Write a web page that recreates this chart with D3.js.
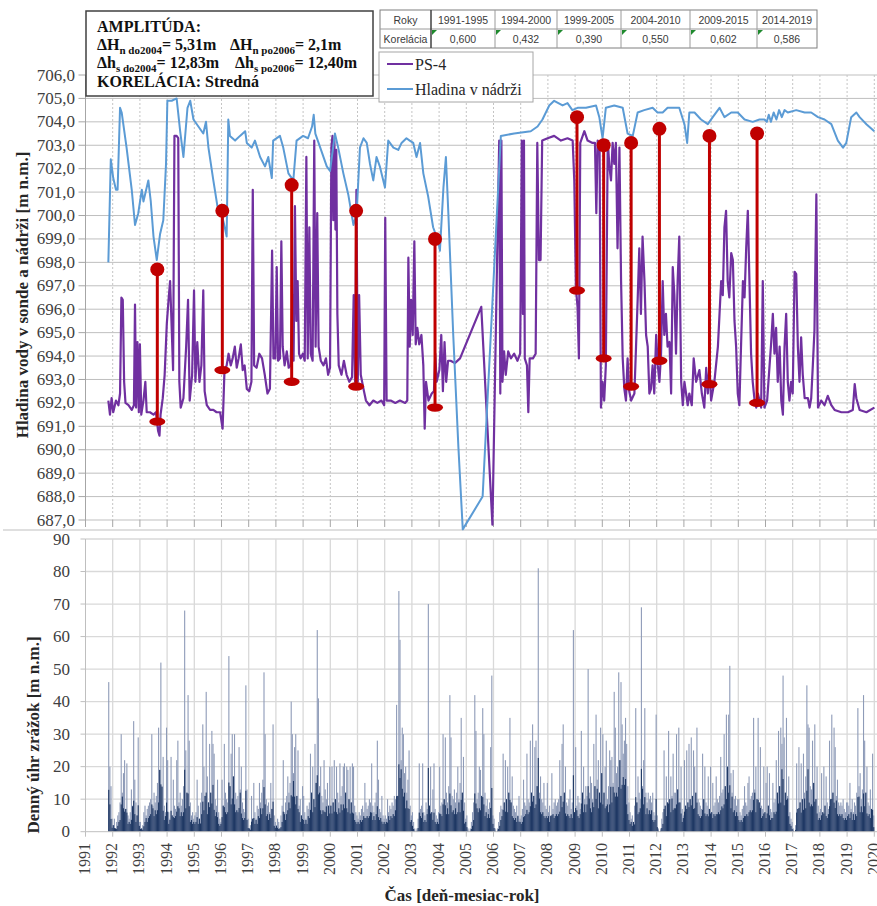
<!DOCTYPE html>
<html lang="sk">
<head>
<meta charset="UTF-8">
<title>PS-4 a hladina v nádrži</title>
<script src="https://cdn.jsdelivr.net/npm/d3@7"></script>
<style>
  html, body { margin: 0; padding: 0; background: #fff; }
  svg { display: block; }
</style>
</head>
<body>
<svg id="chart" width="877" height="906"></svg>
<script>
// ---- data ----
const years = d3.range(1991, 2021);
const levelTicks = d3.range(687, 707);
const rainTicks = d3.range(0, 100, 10);

const tableYears = ["1991-1995", "1994-2000", "1999-2005", "2004-2010", "2009-2015", "2014-2019"];
const korelacia = ["0,600", "0,432", "0,390", "0,550", "0,602", "0,586"];

// PS-4 [year, m n.m.]
const ps4 = [
  [1991.84,692.1],[1991.90,691.5],[1991.96,692.2],[1992.02,691.6],[1992.12,692.1],[1992.21,691.9],
  [1992.27,692.4],[1992.32,696.5],[1992.37,696.4],[1992.42,692.9],[1992.47,692.0],[1992.58,691.9],
  [1992.70,691.7],[1992.78,691.9],[1992.82,696.2],[1992.86,691.8],[1992.91,694.6],[1992.96,691.6],
  [1993.00,694.5],[1993.05,691.5],[1993.13,692.1],[1993.20,692.9],[1993.25,691.6],[1993.37,691.6],
  [1993.50,691.5],[1993.59,691.6],[1993.67,690.8],[1993.72,690.6],[1993.76,691.5],[1993.84,692.2],
  [1993.91,693.2],[1993.99,695.4],[1994.06,696.5],[1994.11,697.2],[1994.16,695.5],[1994.22,693.4],
  [1994.27,703.4],[1994.35,703.4],[1994.41,703.3],[1994.45,692.9],[1994.50,691.8],[1994.60,692.2],
  [1994.70,694.4],[1994.77,696.4],[1994.83,692.1],[1994.92,693.2],[1994.99,696.8],[1995.04,692.9],
  [1995.11,694.6],[1995.19,692.9],[1995.26,693.6],[1995.33,696.8],[1995.38,692.5],[1995.46,691.9],
  [1995.58,691.7],[1995.70,691.7],[1995.82,691.6],[1995.95,691.6],[1996.04,690.9],[1996.11,693.4],
  [1996.19,693.6],[1996.26,694.1],[1996.34,693.6],[1996.41,693.9],[1996.49,694.4],[1996.56,693.5],
  [1996.63,693.9],[1996.71,694.5],[1996.78,693.4],[1996.85,693.6],[1996.93,692.6],[1997.02,692.5],
  [1997.10,692.9],[1997.15,701.1],[1997.20,693.6],[1997.29,693.5],[1997.39,694.1],[1997.49,693.9],
  [1997.59,693.2],[1997.69,692.4],[1997.78,692.6],[1997.86,698.5],[1997.91,693.9],[1997.98,693.9],
  [1998.03,697.8],[1998.08,693.8],[1998.15,693.9],[1998.20,698.9],[1998.25,694.4],[1998.32,693.6],
  [1998.40,694.2],[1998.47,693.5],[1998.54,693.6],[1998.61,696.6],[1998.65,693.8],[1998.70,700.4],
  [1998.75,695.5],[1998.80,697.2],[1998.85,694.1],[1998.91,693.9],[1998.99,694.1],[1999.06,693.8],
  [1999.12,702.5],[1999.17,693.9],[1999.23,699.5],[1999.28,694.1],[1999.35,693.8],[1999.41,703.2],
  [1999.46,694.4],[1999.52,700.1],[1999.57,694.4],[1999.65,693.8],[1999.75,693.6],[1999.84,693.9],
  [1999.92,693.2],[1999.99,693.5],[2000.04,702.9],[2000.08,703.4],[2000.11,699.8],[2000.15,703.2],
  [2000.19,699.4],[2000.22,702.8],[2000.26,695.8],[2000.31,693.6],[2000.41,693.2],[2000.50,693.8],
  [2000.60,693.2],[2000.70,692.9],[2000.80,693.1],[2000.86,696.6],[2000.91,692.9],[2000.96,701.1],
  [2001.01,692.9],[2001.06,696.6],[2001.12,693.2],[2001.22,692.6],[2001.31,692.1],[2001.44,691.9],
  [2001.58,692.1],[2001.73,692.0],[2001.88,692.1],[2001.98,691.9],[2002.02,699.9],[2002.07,692.1],
  [2002.22,692.1],[2002.39,692.0],[2002.56,692.1],[2002.75,692.0],[2002.83,692.1],[2002.87,698.2],
  [2002.92,694.4],[2002.97,696.4],[2003.03,694.9],[2003.09,698.9],[2003.14,694.5],[2003.20,695.2],
  [2003.27,694.5],[2003.35,694.9],[2003.42,693.6],[2003.47,690.9],[2003.52,692.9],[2003.61,692.1],
  [2003.73,692.4],[2003.81,692.5],[2003.86,694.1],[2003.91,692.9],[2004.01,693.4],[2004.08,694.9],
  [2004.14,692.5],[2004.20,694.6],[2004.26,692.9],[2004.33,693.8],[2004.42,693.8],[2004.58,693.7],
  [2004.77,693.9],[2005.55,696.1],[2005.96,686.8],[2006.21,703.2],[2006.25,692.4],[2006.29,703.2],
  [2006.33,692.9],[2006.39,694.2],[2006.45,693.2],[2006.54,694.2],[2006.64,693.9],[2006.76,694.1],
  [2006.88,693.8],[2006.98,694.1],[2007.02,699.8],[2007.04,703.2],[2007.08,695.8],[2007.12,703.2],
  [2007.15,693.9],[2007.23,693.6],[2007.28,691.6],[2007.33,693.9],[2007.45,693.9],[2007.55,694.1],
  [2007.61,703.1],[2007.67,698.1],[2007.73,698.1],[2007.79,703.2],[2007.99,703.3],[2008.23,703.4],
  [2008.48,703.2],[2008.72,703.3],[2008.91,703.2],[2008.97,701.5],[2009.03,696.9],[2009.09,696.1],
  [2009.14,693.9],[2009.19,703.1],[2009.34,703.6],[2009.46,703.2],[2009.64,703.1],[2009.73,703.1],
  [2009.78,700.1],[2009.83,703.2],[2009.90,702.9],[2009.95,691.8],[2010.01,692.9],[2010.07,692.1],
  [2010.13,693.6],[2010.20,703.2],[2010.26,702.1],[2010.32,701.5],[2010.38,703.1],[2010.44,702.2],
  [2010.50,703.1],[2010.56,698.6],[2010.63,702.9],[2010.69,697.2],[2010.75,693.9],[2010.81,692.6],
  [2010.87,692.1],[2010.93,693.9],[2010.99,692.5],[2011.06,692.1],[2011.18,692.4],[2011.24,694.4],
  [2011.30,696.4],[2011.36,698.6],[2011.42,695.8],[2011.48,699.1],[2011.55,697.2],[2011.61,694.9],
  [2011.67,694.4],[2011.73,692.4],[2011.79,692.6],[2011.85,693.6],[2011.91,692.4],[2011.98,694.9],
  [2012.04,693.6],[2012.10,692.9],[2012.16,694.1],[2012.22,697.2],[2012.28,694.9],[2012.34,695.8],
  [2012.40,694.4],[2012.47,694.6],[2012.53,692.4],[2012.59,697.8],[2012.65,696.6],[2012.71,694.1],
  [2012.77,697.2],[2012.83,699.1],[2012.90,692.9],[2012.96,691.9],[2013.02,692.9],[2013.08,692.4],
  [2013.14,691.9],[2013.20,692.4],[2013.29,691.9],[2013.36,693.9],[2013.45,692.9],[2013.57,693.4],
  [2013.66,692.4],[2013.75,691.8],[2013.82,693.5],[2013.88,692.4],[2013.94,693.6],[2014.00,692.1],
  [2014.12,692.9],[2014.25,694.4],[2014.31,695.8],[2014.37,697.2],[2014.43,696.6],[2014.49,699.5],
  [2014.55,700.2],[2014.61,697.2],[2014.67,696.5],[2014.74,698.4],[2014.80,698.1],[2014.86,695.5],
  [2014.92,694.4],[2014.98,692.4],[2015.04,691.9],[2015.10,694.4],[2015.17,697.2],[2015.23,696.5],
  [2015.29,698.6],[2015.35,700.2],[2015.41,697.2],[2015.47,694.1],[2015.53,692.9],[2015.60,692.1],
  [2015.66,691.8],[2015.72,692.4],[2015.78,692.1],[2015.84,691.8],[2015.90,697.2],[2015.96,691.8],
  [2016.06,692.1],[2016.15,693.6],[2016.21,694.6],[2016.27,695.8],[2016.33,694.1],[2016.39,695.2],
  [2016.45,692.9],[2016.52,694.4],[2016.58,692.1],[2016.64,691.5],[2016.70,694.4],[2016.76,695.8],
  [2016.82,692.9],[2016.88,692.1],[2016.94,692.9],[2017.00,692.4],[2017.07,697.6],[2017.13,697.5],
  [2017.19,694.4],[2017.25,692.9],[2017.31,694.8],[2017.37,693.2],[2017.44,692.2],[2017.56,692.2],
  [2017.62,691.8],[2017.68,692.2],[2017.74,693.6],[2017.80,695.1],[2017.87,700.9],[2017.93,691.8],
  [2018.05,692.1],[2018.17,691.9],[2018.29,692.3],[2018.42,691.9],[2018.54,691.7],[2018.79,691.6],
  [2019.03,691.6],[2019.21,691.7],[2019.28,692.8],[2019.34,692.2],[2019.46,691.7],[2019.71,691.6],
  [2020.00,691.8]
];

// Hladina v nádrži [year, m n.m.]
const hladina = [
  [1991.84,698.0],[1991.93,702.4],[1992.02,701.6],[1992.12,701.1],[1992.18,701.1],[1992.27,704.6],
  [1992.33,704.4],[1992.51,702.9],[1992.70,701.1],[1992.82,699.6],[1992.94,700.1],[1993.07,701.1],
  [1993.13,700.6],[1993.19,700.9],[1993.31,701.5],[1993.40,700.6],[1993.50,699.1],[1993.62,698.1],
  [1993.74,699.2],[1993.86,699.8],[1993.96,702.2],[1994.01,704.9],[1994.17,704.9],[1994.35,705.0],
  [1994.48,703.6],[1994.60,702.5],[1994.75,704.6],[1994.85,704.9],[1994.97,704.1],[1995.15,703.8],
  [1995.33,703.5],[1995.43,704.0],[1995.52,702.9],[1995.70,701.5],[1995.85,700.4],[1996.00,700.1],
  [1996.10,699.6],[1996.19,699.1],[1996.25,704.1],[1996.31,703.4],[1996.50,703.2],[1996.68,703.4],
  [1996.87,703.6],[1996.93,703.1],[1997.11,702.9],[1997.23,703.2],[1997.42,702.5],[1997.60,702.1],
  [1997.72,702.5],[1997.85,701.6],[1997.90,703.2],[1998.15,703.4],[1998.27,702.9],[1998.46,701.8],
  [1998.64,701.5],[1998.76,703.2],[1999.00,703.4],[1999.18,703.3],[1999.33,703.8],[1999.39,704.3],
  [1999.45,703.5],[1999.63,702.9],[1999.87,702.1],[1999.99,701.9],[2000.17,703.5],[2000.29,702.9],
  [2000.48,701.8],[2000.66,700.9],[2000.85,699.6],[2000.97,700.1],[2001.09,702.9],[2001.22,703.3],
  [2001.34,703.1],[2001.46,702.2],[2001.58,701.5],[2001.70,702.5],[2001.82,702.1],[2002.01,701.2],
  [2002.13,703.2],[2002.32,702.9],[2002.50,702.8],[2002.62,703.1],[2002.80,703.3],[2002.92,703.2],
  [2003.05,703.1],[2003.17,702.5],[2003.30,703.1],[2003.42,701.8],[2003.60,700.8],[2003.78,699.5],
  [2003.97,698.9],[2004.03,698.5],[2004.16,701.2],[2004.25,702.5],[2004.34,700.1],[2004.52,694.9],
  [2004.71,690.1],[2004.87,686.6],[2005.60,688.0],[2006.27,703.4],[2006.76,703.5],[2007.37,703.6],
  [2007.62,703.8],[2007.80,704.1],[2008.05,704.7],[2008.23,704.9],[2008.54,704.7],[2008.72,704.8],
  [2008.90,704.5],[2009.09,704.6],[2009.40,704.6],[2009.77,704.7],[2009.89,704.2],[2010.01,703.3],
  [2010.13,704.6],[2010.44,704.7],[2010.75,704.6],[2010.93,703.5],[2011.12,703.4],[2011.30,704.4],
  [2011.54,704.5],[2011.85,704.6],[2012.03,704.4],[2012.22,704.4],[2012.40,704.6],[2012.65,704.6],
  [2012.83,704.6],[2013.02,703.9],[2013.12,703.1],[2013.20,704.4],[2013.39,704.4],[2013.63,704.1],
  [2013.88,703.9],[2014.06,704.2],[2014.31,704.6],[2014.49,704.2],[2014.74,704.4],[2014.98,704.4],
  [2015.23,704.1],[2015.53,704.0],[2015.78,704.1],[2015.96,704.1],[2016.05,704.0],[2016.12,704.3],
  [2016.20,704.0],[2016.30,704.4],[2016.40,704.1],[2016.50,704.5],[2016.60,704.2],[2016.70,704.5],
  [2016.82,704.4],[2017.13,704.5],[2017.44,704.4],[2017.68,704.4],[2017.93,704.2],[2018.17,704.1],
  [2018.42,703.9],[2018.66,703.2],[2018.85,702.9],[2018.97,703.1],[2019.15,704.2],[2019.34,704.4],
  [2019.46,704.2],[2019.71,703.9],[2020.00,703.6]
];

// amplitude markers (red)
const ampYear   = [1993.64, 1996.03, 1998.58, 2000.95, 2003.85, 2009.07, 2010.05, 2011.06, 2012.10, 2013.94, 2015.69];
const ampTop    = [697.7, 700.2, 701.3, 700.2, 699.0, 704.2, 703.0, 703.1, 703.7, 703.4, 703.5];
const ampBottom = [691.2, 693.4, 692.9, 692.7, 691.8, 696.8, 693.9, 692.7, 693.8, 692.8, 692.0];

// daily precipitation, highest value in each half-month (24 per year), 1991..2019
const rainHalfMonth = [
  [0,0,0,0,0,0,0,0,0,0,0,0,0,0,0,0,0,0,0,0,46,20,14,4],
  [2,4,1,3,5,6,9,30,12,18,22,7,21,5,4,6,13,8,34,16,9,5,29,3],
  [3,1,2,6,8,5,7,8,9,10,30,8,12,9,11,15,32,19,52,14,23,8,6,32],
  [22,6,4,23,5,16,8,7,22,28,9,12,8,10,14,68,25,12,42,28,9,5,6,4],
  [5,6,16,8,4,9,12,33,20,11,43,17,9,27,12,31,27,24,10,8,16,6,4,3],
  [16,8,27,12,10,9,54,14,24,30,17,30,12,10,11,26,13,20,9,7,6,45,13,4],
  [1,2,11,4,15,6,4,8,7,15,9,12,16,49,30,10,8,9,6,15,7,33,5,3],
  [2,4,3,1,5,8,22,6,9,11,17,12,15,40,30,18,26,30,11,25,8,10,5,14],
  [11,6,4,8,7,9,24,12,20,10,27,15,62,41,14,20,11,9,22,13,10,15,8,20],
  [8,20,9,22,10,20,12,9,21,11,14,20,21,12,20,19,10,20,9,21,20,8,6,5],
  [4,6,5,7,8,6,15,9,7,8,10,9,21,8,6,9,12,28,16,7,6,11,5,4],
  [5,4,10,6,8,7,9,8,11,10,39,11,74,59,22,32,30,18,20,12,16,25,8,5],
  [6,3,1,0,1,4,21,7,8,21,6,5,9,7,70,8,20,6,13,21,7,5,4,6],
  [20,8,9,30,10,29,12,9,14,42,29,11,10,13,9,12,20,10,15,35,12,23,9,4],
  [5,1,0,1,3,6,9,42,31,10,12,20,19,11,38,30,12,8,10,7,9,26,48,5],
  [4,1,0,1,3,6,8,7,24,9,22,10,20,12,35,9,17,8,7,6,8,5,11,4],
  [5,7,16,9,8,24,10,9,28,12,33,11,26,28,14,81,12,17,10,9,15,8,7,15],
  [6,8,5,18,7,9,10,8,9,10,22,11,27,33,12,20,9,8,10,13,7,9,62,6],
  [26,8,11,9,7,31,12,20,10,14,11,50,12,17,15,10,27,14,36,16,22,12,32,18],
  [30,12,20,28,10,14,25,22,23,15,43,32,18,20,49,22,46,33,24,28,35,27,14,9],
  [6,4,5,3,8,38,9,17,12,10,69,14,22,38,12,9,12,10,11,9,12,6,5,36],
  [5,1,0,1,4,6,25,8,17,9,31,10,17,11,24,12,12,30,13,32,9,20,7,5],
  [22,8,25,9,27,10,29,11,25,20,12,32,10,9,8,7,24,10,20,9,8,17,7,20],
  [6,15,8,9,17,10,9,11,23,12,13,30,14,36,20,36,51,18,12,19,10,11,8,10],
  [10,6,5,7,8,14,9,8,15,17,10,11,12,35,13,20,10,35,9,26,8,7,20,6],
  [15,20,8,18,7,6,15,9,10,22,12,31,14,32,27,48,29,12,35,11,17,6,4,3],
  [1,0,2,21,7,26,9,21,10,24,12,17,45,33,32,14,13,28,15,33,10,20,8,6],
  [7,18,6,20,8,17,9,7,28,10,36,12,32,26,11,16,9,8,9,8,10,7,6,9],
  [9,8,15,7,10,6,9,8,12,38,14,18,10,13,42,28,12,20,9,8,13,7,24,5]
];

// ---- drawing ----
const serif = '"Liberation Serif", "Times New Roman", serif';
const sans = '"Liberation Sans", Arial, sans-serif';
const svg = d3.select("#chart");

const x = d3.scaleLinear().domain([1991, 2020]).range([85.5, 874.3]);
const yLevel = d3.scaleLinear().domain([687, 706]).range([520, 75]);
const yRain = d3.scaleLinear().domain([0, 90]).range([831.7, 539]);
const fmtLevel = d => d3.format(".1f")(d).replace(".", ",");

// top panel grid
const gTop = svg.append("g");
gTop.selectAll("line.h").data(levelTicks).join("line")
  .attr("x1", x(1991)).attr("x2", 877)
  .attr("y1", d => yLevel(d)).attr("y2", d => yLevel(d))
  .attr("stroke", "#bfbfbf").attr("stroke-width", 1);
gTop.selectAll("line.v").data(years.slice(1)).join("line")
  .attr("x1", d => x(d)).attr("x2", d => x(d))
  .attr("y1", yLevel(706)).attr("y2", yLevel(687))
  .attr("stroke", "#c4c4c4").attr("stroke-dasharray", "2,2");
// x ticks under the top panel
gTop.selectAll("line.t").data(years).join("line")
  .attr("x1", d => x(d)).attr("x2", d => x(d))
  .attr("y1", yLevel(687)).attr("y2", yLevel(687) + 7)
  .attr("stroke", "#a6a6a6");
gTop.append("line").attr("x1", x(1991)).attr("x2", x(1991))
  .attr("y1", yLevel(706)).attr("y2", yLevel(687) + 7).attr("stroke", "#a6a6a6");
gTop.selectAll("line.yt").data(levelTicks).join("line")
  .attr("x1", x(1991) - 7).attr("x2", x(1991))
  .attr("y1", d => yLevel(d)).attr("y2", d => yLevel(d)).attr("stroke", "#a6a6a6");
gTop.selectAll("text.yl").data(levelTicks).join("text")
  .attr("x", 75).attr("y", d => yLevel(d))
  .attr("text-anchor", "end").attr("dominant-baseline", "central")
  .attr("font-family", serif).attr("font-size", 17).attr("fill", "#404040")
  .text(fmtLevel);

// separator between the panels
svg.append("line").attr("x1", 3).attr("x2", 877).attr("y1", 530).attr("y2", 530)
  .attr("stroke", "#bfbfbf");

// bottom panel grid
const gBot = svg.append("g");
gBot.selectAll("line.h").data(rainTicks.slice(1)).join("line")
  .attr("x1", x(1991)).attr("x2", 877)
  .attr("y1", d => yRain(d)).attr("y2", d => yRain(d))
  .attr("stroke", "#d9d9d9").attr("stroke-width", 1.3);
gBot.selectAll("line.v").data(years.slice(1)).join("line")
  .attr("x1", d => x(d)).attr("x2", d => x(d))
  .attr("y1", yRain(90)).attr("y2", yRain(0))
  .attr("stroke", "#d9d9d9").attr("stroke-width", 1.3);
gBot.append("line").attr("x1", x(1991)).attr("x2", x(1991))
  .attr("y1", yRain(90)).attr("y2", yRain(0)).attr("stroke", "#bfbfbf");
gBot.selectAll("line.yt").data(rainTicks).join("line")
  .attr("x1", x(1991) - 5).attr("x2", x(1991))
  .attr("y1", d => yRain(d)).attr("y2", d => yRain(d)).attr("stroke", "#bfbfbf");
gBot.selectAll("text.yl").data(rainTicks).join("text")
  .attr("x", 70).attr("y", d => yRain(d))
  .attr("text-anchor", "end").attr("dominant-baseline", "central")
  .attr("font-family", serif).attr("font-size", 17).attr("fill", "#404040")
  .text(d => d);

// precipitation bars: light full height, dark only where the neighbouring bins are wet too
const rainBars = [];
rainHalfMonth.forEach((row, i) => {
  row.forEach((v, j) => {
    const prev = j > 0 ? row[j - 1] : (i > 0 ? rainHalfMonth[i - 1][23] : 0);
    const next = j < 23 ? row[j + 1] : (i < rainHalfMonth.length - 1 ? rainHalfMonth[i + 1][0] : 0);
    if (v > 0) rainBars.push({ t: 1991 + i + (j + 0.5) / 24, v: v,
      dark: Math.min(v, Math.max(Math.min(prev, next) * 0.6, v * 0.28)) });
  });
});
gBot.selectAll("rect.light").data(rainBars).join("rect")
  .attr("x", d => x(d.t) - 0.55).attr("width", 1.1)
  .attr("y", d => yRain(d.v)).attr("height", d => yRain(0) - yRain(d.v))
  .attr("fill", "#8e9bb8");
gBot.selectAll("rect.dark").data(rainBars).join("rect")
  .attr("x", d => x(d.t) - 0.55).attr("width", 1.1)
  .attr("y", d => yRain(d.dark)).attr("height", d => yRain(0) - yRain(d.dark))
  .attr("fill", "#1f3864");

gBot.append("line").attr("x1", x(1991)).attr("x2", 877)
  .attr("y1", yRain(0)).attr("y2", yRain(0)).attr("stroke", "#bfbfbf");
gBot.selectAll("line.xt").data(years).join("line")
  .attr("x1", d => x(d)).attr("x2", d => x(d))
  .attr("y1", yRain(0)).attr("y2", yRain(0) + 5).attr("stroke", "#bfbfbf");
gBot.selectAll("text.xl").data(years).join("text")
  .attr("transform", d => `translate(${x(d) - 1},843) rotate(-90)`)
  .attr("text-anchor", "end").attr("dominant-baseline", "central")
  .attr("font-family", serif).attr("font-size", 16).attr("fill", "#404040")
  .text(d => d);

// series lines
const line = d3.line().x(d => x(d[0])).y(d => yLevel(d[1]));
svg.append("path").datum(ps4).attr("d", line)
  .attr("fill", "none").attr("stroke", "#7030a0").attr("stroke-width", 2.2).attr("stroke-linejoin", "round");
svg.append("path").datum(hladina).attr("d", line)
  .attr("fill", "none").attr("stroke", "#5b9bd5").attr("stroke-width", 2).attr("stroke-linejoin", "round");

// amplitude markers
const amp = ampYear.map((t, i) => ({ t: t, top: ampTop[i], bottom: ampBottom[i] }));
const gAmp = svg.append("g").attr("fill", "#c00000").attr("stroke", "#c00000");
gAmp.selectAll("line").data(amp).join("line")
  .attr("x1", d => x(d.t)).attr("x2", d => x(d.t))
  .attr("y1", d => yLevel(d.top)).attr("y2", d => yLevel(d.bottom)).attr("stroke-width", 3);
gAmp.selectAll("circle").data(amp).join("circle")
  .attr("cx", d => x(d.t)).attr("cy", d => yLevel(d.top)).attr("r", 7).attr("stroke", "none");
gAmp.selectAll("ellipse").data(amp).join("ellipse")
  .attr("cx", d => x(d.t)).attr("cy", d => yLevel(d.bottom)).attr("rx", 8).attr("ry", 4.2).attr("stroke", "none");

// axis titles
svg.append("text").attr("transform", "translate(22,295) rotate(-90)")
  .attr("text-anchor", "middle").attr("dominant-baseline", "central")
  .attr("font-family", serif).attr("font-size", 17).attr("font-weight", "bold").attr("fill", "#262626")
  .text("Hladina vody v sonde a nádrži [m n.m.]");
svg.append("text").attr("transform", "translate(33,735) rotate(-90)")
  .attr("text-anchor", "middle").attr("dominant-baseline", "central")
  .attr("font-family", serif).attr("font-size", 17).attr("font-weight", "bold").attr("fill", "#262626")
  .text("Denný úhr zrážok [m n.m.]");
svg.append("text").attr("x", 462).attr("y", 901)
  .attr("text-anchor", "middle")
  .attr("font-family", serif).attr("font-size", 17).attr("font-weight", "bold").attr("fill", "#262626")
  .text("Čas [deň-mesiac-rok]");

// amplitude text box
const box = svg.append("g").attr("font-family", serif).attr("font-weight", "bold").attr("fill", "#111");
box.append("rect").attr("x", 86).attr("y", 11).attr("width", 287).attr("height", 85)
  .attr("fill", "#fff").attr("stroke", "#404040").attr("stroke-width", 1.5);
box.append("text").attr("x", 97).attr("y", 32).attr("font-size", 16).text("AMPLITÚDA:");
function richText(x0, y0, parts) {
  const t = box.append("text").attr("x", x0).attr("y", y0).attr("font-size", 16);
  let shifted = false;
  parts.forEach(p => {
    const sp = t.append("tspan").text(p[0]);
    if (p[1] && !shifted) { sp.attr("dy", 4).attr("font-size", 11); shifted = true; }
    else if (p[1]) { sp.attr("font-size", 11); }
    else if (shifted) { sp.attr("dy", -4); shifted = false; }
  });
}
richText(97, 50, [["ΔH"], ["n do2004", 1], ["= 5,31m"]]);
richText(230, 50, [["ΔH"], ["n po2006", 1], ["= 2,1m"]]);
richText(97, 68, [["Δh"], ["s do2004", 1], ["= 12,83m"]]);
richText(235, 68, [["Δh"], ["s po2006", 1], ["= 12,40m"]]);
box.append("text").attr("x", 97).attr("y", 87).attr("font-size", 16).text("KORELÁCIA: Stredná");

// correlation table
const colX = [380, 431, 495, 557, 621, 690, 757, 817];
const rowY = [10, 29, 48];
const gTab = svg.append("g").attr("font-family", sans).attr("font-size", 10.5).attr("fill", "#3a3a3a");
gTab.append("rect").attr("x", colX[0]).attr("y", rowY[0]).attr("width", colX[7] - colX[0]).attr("height", rowY[2] - rowY[0])
  .attr("fill", "#fff").attr("stroke", "#7f7f7f");
gTab.append("line").attr("x1", colX[0]).attr("x2", colX[7]).attr("y1", rowY[1]).attr("y2", rowY[1]).attr("stroke", "#9a9a9a");
gTab.selectAll("line.c").data(colX.slice(1, 7)).join("line")
  .attr("x1", d => d).attr("x2", d => d).attr("y1", rowY[0]).attr("y2", rowY[2])
  .attr("stroke", (d, i) => i === 0 ? "#404040" : "#9a9a9a").attr("stroke-width", (d, i) => i === 0 ? 1.5 : 1);
const tabRows = [["Roky"].concat(tableYears), ["Korelácia"].concat(korelacia)];
tabRows.forEach((row, r) => {
  row.forEach((txt, c) => {
    gTab.append("text").attr("x", (colX[c] + colX[c + 1]) / 2).attr("y", (rowY[r] + rowY[r + 1]) / 2)
      .attr("text-anchor", "middle").attr("dominant-baseline", "central").text(txt);
  });
});
gTab.selectAll("path.flag").data(korelacia).join("path")
  .attr("d", (d, i) => `M${colX[i + 1] + 1},${rowY[1] + 1}h5l-5,5z`).attr("fill", "#1f8a2e");

// legend
const gLeg = svg.append("g").attr("font-family", serif).attr("font-size", 16).attr("fill", "#262626");
gLeg.append("rect").attr("x", 379).attr("y", 52).attr("width", 154).attr("height", 50)
  .attr("fill", "#fff").attr("stroke", "#a6a6a6");
const legendItems = [["PS-4", "#7030a0", 64], ["Hladina v nádrži", "#5b9bd5", 89]];
legendItems.forEach(it => {
  gLeg.append("line").attr("x1", 387).attr("x2", 413).attr("y1", it[2]).attr("y2", it[2])
    .attr("stroke", it[1]).attr("stroke-width", 2);
  gLeg.append("text").attr("x", 415).attr("y", it[2]).attr("dominant-baseline", "central").text(it[0]);
});
</script>
</body>
</html>
